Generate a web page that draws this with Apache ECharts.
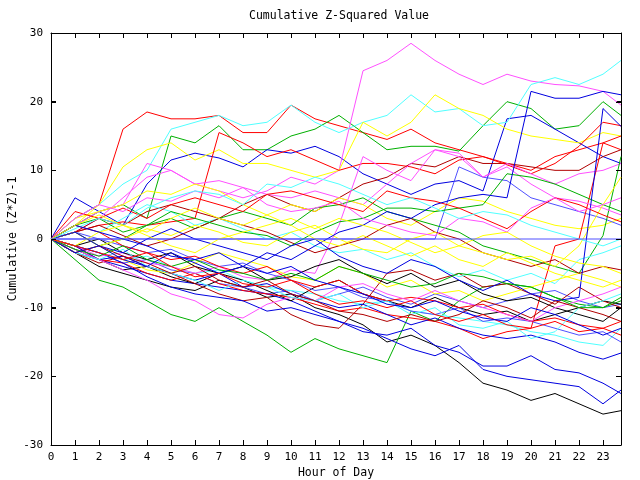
<!DOCTYPE html>
<html><head><meta charset="utf-8">
<script src="https://cdn.jsdelivr.net/npm/echarts@6/dist/echarts.min.js"></script>
<style>html,body{margin:0;padding:0;background:#fff}#c{width:640px;height:480px}</style>
</head><body><div id="c"></div>
<script>
// x positions (hour of day) shared by every series
const hours = [0,1,2,3,4,5,6,7,8,9,10,11,12,13,14,15,16,17,18,19,20,21,22,23,23.75];
const xTickValues = [0,1,2,3,4,5,6,7,8,9,10,11,12,13,14,15,16,17,18,19,20,21,22,23];
const yTickValues = [-30,-20,-10,0,10,20,30];

// red
const red1 = [0,3,5,16,18.5,17.5,17.5,18,15.5,15.5,19.5,17.5,16.5,15.5,14.5,16,14,13,12,11,10,12,13,14,13];
const red2 = [0,1,2,2.5,2,2.5,3,15.5,14,12,13,11.5,10,11,11,10.5,9.5,11.5,12,10.8,9.5,11,13.5,17,16.5];
const red3 = [0,-1,-3,-3.5,-5,-6,-5,-6.5,-7.5,-8,-8.5,-9.5,-10.5,-10,-11,-11.5,-12,-13,-14.5,-13.5,-13,-1,0,14,15];
const red4 = [0,2,1,-1,-2,-3,-2.5,-4,-5,-4,-6,-7,-6,-8,-9,-8.5,-9,-10,-9.5,-11,-12,-11.5,-12.5,-13,-14];
const red5 = [0,4,3,4.5,3,5,6,5,4,6.5,7,6,5,4,7,6,5.5,4.5,3,1.5,4,6,5,3.5,2.5];
const red6 = [0,-1,-2,-3,-2,-4,-5.5,-5,-6.5,-7,-6,-8,-9.5,-9,-10,-9,-11,-12,-11,-12.5,-13,-12,-13.5,-13,-12];
// green
const green1 = [0,2,4,5,3,15,14,16.5,13,13,15,16,18,15.5,13,13.5,13.5,12.8,16.5,20,19,16,16.5,20,18];
const green2 = [0,-3,-6,-7,-9,-11,-12,-10,-12,-14,-16.5,-14.5,-16,-17,-18,-10.5,-12,-9,-7,-6.5,-7,-8.5,-9.5,-10,-9];
const green3 = [0,1,-1,0,2,3,1.5,3,4,3,2,4.5,5,6,4,3,2,1,-1,-2,-3,-4,-5,0.5,12];
const green4 = [0,2,3,1,2,4,3,2,1,0.5,-1,1,2.5,3,4.5,4.5,4,4.5,5,9.5,9,8,6.5,5,4];
const green5 = [0,-1.5,-2.5,-1,-3,-4,-3,-4.5,-5,-6,-5,-6,-4,-5,-6,-7,-6.5,-5,-5.5,-6.5,-7,-8.5,-10,-10,-8.5];
// blue
const blue1 = [0,6,4,2,8,11.5,12.5,11.8,10.5,13,12.5,13.5,12,9.5,8,6.5,8,8.5,7,17.5,18,16,14,12,11];
const blue2 = [0,-2,-3,-4,-5,-6,-6.5,-7,-7.5,-8,-9,-10.5,-12,-13.5,-14,-13,-15.5,-16.5,-18.5,-18.5,-17,-19,-19.5,-21,-22.5];
const blue3 = [0,-1,-2,-3.5,-5.5,-7,-8,-8.5,-9,-10.5,-10,-11,-12,-13,-14.5,-16,-17,-15.5,-19,-20,-20.5,-21,-21.5,-24,-22];
const blue4 = [0,-1,-3,-2.5,-4,-5,-6,-5,-7,-6.5,-8,-9,-10,-9.5,-11,-12.5,-11.5,-13,-14,-14.5,-14,-15,-16.5,-17.5,-16.6];
const blue5 = [0,-2,-1,-3,-4,-2,-3.5,-5,-4,-2,-3,-1,1,2,4,3,5,6,6.5,6,21.5,20.5,20.5,21.5,21];
const blue6 = [0,1,-1,-2,0,1.5,0,-1,-2,-3,-1,0,-2.5,-4,-5,-3,-4,-6,-7.5,-6,-8,-9,-8.5,19,16.4];
const blue7 = [0,2,1,0,-1,-2.5,-3,-2,-4,-5,-4,-6,-7,-8,-9.5,-10,-9,-10.5,-11.5,-12,-10,-11,-12.5,-14,-13];
// magenta
const magenta1 = [0,1,3,6,9,10,8,7,6,7,9,8,10,24.5,26,28.5,26,24,22.5,24,23,22.5,22.3,21.5,19.5];
const magenta2 = [0,2,4,5,11,10,8,8.5,7.5,6.5,6,7,6,5,8,11,13,12.5,9,11,9.5,8,9.5,10,11];
const magenta3 = [0,-1,-2.5,-2,-3.5,-4,-5,-4,-5.5,-6,-4.5,-5,2,12,10,8.5,13,12,9,10.5,8,6,5.5,4.5,3.5];
const magenta4 = [0,-1.5,-3,-4.5,-6,-8,-9,-11,-11.5,-9.5,-8.5,-9,-7,-6.5,-8,-9,-7.5,-9,-10,-11,-12,-10,-9,-8,-7];
const magenta5 = [0,3,5,4,6,5.5,7,6,7.5,5,4,4.5,5.5,3,2,1,0.5,3,2.5,1,4.5,6,4,5,6];
// cyan
const cyan1 = [0,3,5,8,10,16,17,18,16.5,17,19.5,17,15.5,17,18,21,18.5,19,16.5,17,22.5,23.5,22.5,24,26];
const cyan2 = [0,-1,-2,-3,-2.5,-4,-5,-4.5,-6,-7,-7.5,-8,-9,-9.5,-9,-10.5,-11,-11.5,-12,-12.5,-13.5,-14,-15,-15.5,-13];
const cyan3 = [0,2,1,3,5,4,2,3,1.5,0,1,-1,-2,-1.5,-3,-2,-4,-5.5,-4.5,-6,-5,-6.5,-3,-2,-1];
const cyan4 = [0,-2,-3,-1.5,-4,-5,-6,-7.5,-6,-7,-8.5,-9,-8,-10,-9,-11,-10,-12.5,-13,-12,-14.5,-13.5,-10,-9,-8];
const cyan5 = [0,1.5,3,2,4.5,6,7,6.5,5,8,7.5,9,8,6.5,5,6,4.5,3,4,3.5,2,1,0,-1,0];
// yellow
const yellow1 = [0,2,5,10.5,13,14,11.5,13,11,11,10,9,10,17,15,17,21,19,18,16,15,14.5,14,15.5,15];
const yellow2 = [0,3,4,5,7,6.5,8,7,5,3.5,5,4,6,5,3,2,4,6,5.5,4,3,2,1.5,2,3];
const yellow3 = [0,-2,-1,-3,-4.5,-5,-3.5,-2,-3,-4,-5.5,-6,-4,-5,-7,-6,-8,-7.5,-9,-8,-7,-6,-5,-6,-7];
const yellow4 = [0,1,-1,0,1.5,0.5,2,1,-0.5,-1,1,2,0,-1.5,-2,0,1,-1,-2,-3,-2.5,-4,-1,5,9];
const yellow5 = [0,-1,1,2,0.5,-1,-2,0,1,2,3,1.5,3,2,1,-0.5,-2,-1,0.5,1,-1,-2.5,-3.5,-4,-5];
const yellow6 = [0,2,3.5,2,1,3,4.5,3,2,3.5,2,0,-1,0.5,-1,-2.5,-1,-3,-4,-2,-3.5,-5,-6,-7,-6];
// black
const black1 = [0,-2,-4,-5,-6,-7,-7.5,-6,-7,-8.5,-8,-10,-11,-12.5,-15,-14,-15.5,-18,-21,-22,-23.5,-22.5,-24,-25.5,-25];
const black2 = [0,-1.5,-3,-4.5,-4,-5.5,-6.5,-5,-6,-7.5,-9,-7,-6,-8,-9,-10,-8.5,-10,-11,-10.5,-12,-11,-10,-9,-9.5];
const black3 = [0,-1,0,-2,-3,-2,-4,-5,-4,-6,-5.5,-4,-3,-5,-6.5,-5,-7,-6,-8,-9,-8.5,-10,-11,-12,-10];
// dark red
const darkred1 = [0,1,3,2,4,5,4,3,5,6.5,5,4,6,8,9,11,10.5,12,11,11,10.5,10,10,12,13];
const darkred2 = [0,-2,-3.5,-2.5,-4,-5,-6.5,-8,-9,-8.5,-11,-12.5,-13,-9.5,-5,-4.5,-6,-5,-7,-6.5,-8,-9.5,-7,-9,-10];
const darkred3 = [0,1,2,0.5,-1,0,1.5,3,2,1,-0.5,-2,-1,0,2,3,1,0,-2,-3,-4,-3,-5,-4,-4.5];
const darkred4 = [0,-2,-1,-2.5,-3.5,-5,-4,-6,-7,-6,-8,-9,-10.5,-11,-12,-11,-12,-11,-9,-10,-11.5,-9,-10,-11,-12];
// light blue
const lightblue1 = [0,-1,-2,-3.5,-3,-4.5,-5,-6.5,-7,-8,-7.5,-9,-8,-7,-8.5,-9.5,-8,-9,-10,-9,-8,-7.5,-9,-10,-9.5];
const lightblue2 = [0,0,0,0,0,0,0,0,0,0,0,0,0,0,0,0,0,10.5,9,8.5,6,5,4,3,2];
const lightblue4 = [0,1,0,-1,-2,-1.5,-3,-4,-3.5,-5,-6,-7.5,-7,-8.5,-9,-10.5,-11,-10,-12,-11.5,-12,-13,-14,-13.5,-15];
const lightblue3 = [0,0,0,0,0,0,0,0,0,0,0,0,0,0,0,0,0,0,0,0,0,0,0,0,0];

const C = {red:'#ff0000', green:'#00b000', blue:'#0000e0', magenta:'#ff50ff', cyan:'#50ffff',
           yellow:'#ffff00', black:'#000000', darkred:'#b00000', lightblue:'#5050ff'};

const seriesList = [
  [red1,C.red],[green1,C.green],[blue1,C.blue],[magenta1,C.magenta],[cyan1,C.cyan],[yellow1,C.yellow],[black1,C.black],[darkred1,C.darkred],[lightblue1,C.lightblue],
  [red2,C.red],[green2,C.green],[blue2,C.blue],[magenta2,C.magenta],[cyan2,C.cyan],[yellow2,C.yellow],[black2,C.black],[darkred2,C.darkred],[lightblue2,C.lightblue],
  [red3,C.red],[green3,C.green],[blue3,C.blue],[magenta3,C.magenta],[cyan3,C.cyan],[yellow3,C.yellow],[black3,C.black],[darkred3,C.darkred],[lightblue4,C.lightblue],
  [red4,C.red],[green4,C.green],[blue4,C.blue],[magenta4,C.magenta],[cyan4,C.cyan],[yellow4,C.yellow],[blue6,C.blue],[darkred4,C.darkred],
  [red5,C.red],[green5,C.green],[blue5,C.blue],[magenta5,C.magenta],[cyan5,C.cyan],[yellow5,C.yellow],
  [red6,C.red],[blue7,C.blue],[yellow6,C.yellow],
  [lightblue3,C.lightblue]
];

const FONT = 'DejaVu Sans Mono';
const axisCommon = {
  axisLine:{show:true,onZero:false,lineStyle:{color:'#000',width:1}},
  axisTick:{show:true,inside:true,length:5,lineStyle:{color:'#000',width:1}},
  splitLine:{show:false}
};

const chart = echarts.init(document.getElementById('c'), null, {renderer:'canvas'});
chart.setOption({
  animation:false,
  backgroundColor:'#fff',
  title:{text:'Cumulative Z-Squared Value', left:244, top:5,
         textStyle:{fontFamily:FONT,fontSize:11.5,fontWeight:'normal',color:'#000'}},
  grid:{left:51,right:19,top:33,bottom:35,containLabel:false,outerBoundsMode:'none'},
  xAxis:[
    Object.assign({type:'value',position:'bottom',min:0,max:23.75,interval:1,
      name:'Hour of Day',nameLocation:'middle',nameGap:22,nameMoveOverlap:false,
      nameTextStyle:{fontFamily:FONT,fontSize:11.5,color:'#000'},
      axisLabel:{margin:7,fontFamily:FONT,fontSize:11,color:'#000',showMaxLabel:false,
        formatter:v=>Number.isInteger(v)?String(v):''}},axisCommon),
    Object.assign({type:'value',position:'top',min:0,max:23.75,interval:1,axisLabel:{show:false}},axisCommon)
  ],
  yAxis:[
    Object.assign({type:'value',position:'left',min:-30,max:30,interval:10,
      name:'Cumulative (Z*Z)-1',nameLocation:'middle',nameGap:32,nameMoveOverlap:false,
      nameTextStyle:{fontFamily:FONT,fontSize:11.5,color:'#000'},
      axisLabel:{margin:8,fontFamily:FONT,fontSize:11,color:'#000'}},axisCommon),
    Object.assign({type:'value',position:'right',min:-30,max:30,interval:10,axisLabel:{show:false}},axisCommon)
  ],
  series: seriesList.map(([vals,color],i)=>({
    type:'line', xAxisIndex:0, yAxisIndex:0, showSymbol:false, symbol:'none', silent:true,
    data: hours.map((h,k)=>[h, vals[k]]),
    lineStyle:{color:color,width:1}, itemStyle:{color:color}, z:2
  }))
});

// inward tick marks on all four sides, placed through the chart's own scales
const tickEls = [];
const TL = 5;
xTickValues.forEach(v=>{
  const x = Math.round(chart.convertToPixel({xAxisIndex:0}, v)) + 0.5;
  const yb = Math.round(chart.convertToPixel({yAxisIndex:0}, -30));
  const yt = Math.round(chart.convertToPixel({yAxisIndex:0}, 30));
  tickEls.push({type:'line',shape:{x1:x,y1:yb,x2:x,y2:yb-TL},style:{stroke:'#000',lineWidth:1},z:10,silent:true});
  tickEls.push({type:'line',shape:{x1:x,y1:yt,x2:x,y2:yt+TL},style:{stroke:'#000',lineWidth:1},z:10,silent:true});
});
yTickValues.forEach(v=>{
  const y = Math.round(chart.convertToPixel({yAxisIndex:0}, v)) + 0.5;
  const xl = Math.round(chart.convertToPixel({xAxisIndex:0}, 0));
  const xr = Math.round(chart.convertToPixel({xAxisIndex:0}, 23.75));
  tickEls.push({type:'line',shape:{x1:xl,y1:y,x2:xl+TL,y2:y},style:{stroke:'#000',lineWidth:1},z:10,silent:true});
  tickEls.push({type:'line',shape:{x1:xr,y1:y,x2:xr-TL,y2:y},style:{stroke:'#000',lineWidth:1},z:10,silent:true});
});
chart.setOption({graphic:{elements:tickEls}});
</script></body></html>
